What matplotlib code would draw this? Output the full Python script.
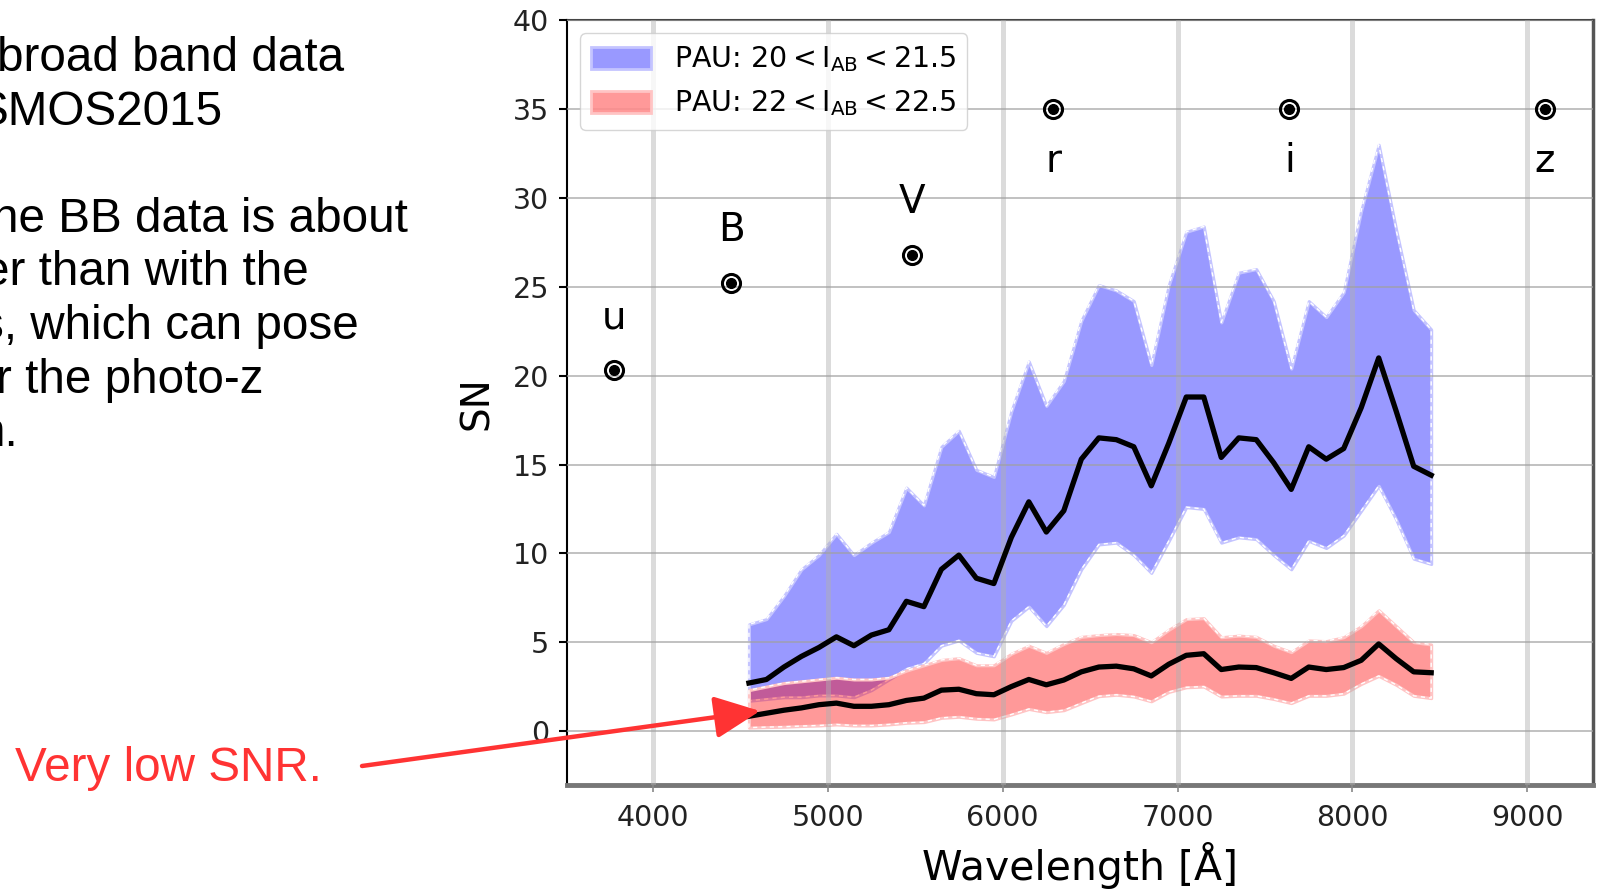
import numpy as np
import matplotlib
matplotlib.use('Agg')
import matplotlib.pyplot as plt
from matplotlib.patches import Patch

plt.rcParams['mathtext.default'] = 'regular'

# PAU narrow band centres [A]
wl = [4550, 4650, 4750, 4850, 4950, 5050, 5150, 5250, 5350, 5450,
      5550, 5650, 5750, 5850, 5950, 6050, 6150, 6250, 6350, 6450,
      6550, 6650, 6750, 6850, 6950, 7050, 7150, 7250, 7350, 7450,
      7550, 7650, 7750, 7850, 7950, 8050, 8150, 8250, 8350, 8450]

# bright sample 20 < I < 21.5
bright_med = [2.7, 2.9, 3.6, 4.2, 4.7, 5.3, 4.8, 5.4, 5.7, 7.3,
              7.0, 9.1, 9.9, 8.6, 8.3, 10.9, 12.9, 11.2, 12.4, 15.3,
              16.5, 16.4, 16.0, 13.8, 16.2, 18.8, 18.8, 15.4, 16.5, 16.4,
              15.1, 13.6, 16.0, 15.3, 15.9, 18.2, 21.0, 18.0, 14.9, 14.4]
bright_hi = [6.0, 6.3, 7.6, 9.1, 9.9, 11.1, 9.9, 10.6, 11.2, 13.7,
             12.7, 16.0, 16.9, 14.7, 14.3, 18.0, 20.8, 18.3, 19.7, 23.1,
             25.1, 24.8, 24.2, 20.6, 25.1, 28.1, 28.4, 23.0, 25.8, 26.0,
             24.2, 20.4, 24.2, 23.3, 24.7, 29.3, 33.0, 28.2, 23.7, 22.6]
bright_lo = [1.7, 1.8, 1.9, 1.9, 2.0, 2.0, 1.9, 2.3, 2.9, 3.5,
             3.8, 4.8, 5.1, 4.4, 4.2, 6.2, 7.0, 5.9, 7.1, 9.1,
             10.5, 10.6, 9.9, 8.9, 10.7, 12.6, 12.5, 10.6, 10.9, 10.8,
             9.9, 9.1, 10.7, 10.3, 11.0, 12.4, 13.8, 11.9, 9.7, 9.4]

# faint sample 22 < I < 22.5
faint_med = [0.83, 1.0, 1.17, 1.3, 1.48, 1.57, 1.39, 1.39, 1.48, 1.72,
             1.85, 2.3, 2.35, 2.1, 2.04, 2.5, 2.9, 2.6, 2.87, 3.33,
             3.6, 3.65, 3.5, 3.1, 3.76, 4.26, 4.35, 3.46, 3.6, 3.57,
             3.28, 2.96, 3.6, 3.46, 3.57, 3.98, 4.9, 4.07, 3.33, 3.28]
faint_hi = [2.3, 2.5, 2.7, 2.8, 2.9, 3.0, 2.9, 2.9, 3.0, 3.4,
            3.7, 4.0, 4.1, 3.7, 3.7, 4.35, 4.8, 4.4, 4.9, 5.3,
            5.4, 5.46, 5.4, 5.0, 5.7, 6.3, 6.35, 5.28, 5.37, 5.3,
            4.8, 4.44, 5.1, 5.06, 5.28, 5.9, 6.8, 5.9, 5.0, 4.87]
faint_lo = [0.19, 0.22, 0.24, 0.28, 0.31, 0.37, 0.31, 0.31, 0.37, 0.46,
            0.5, 0.74, 0.8, 0.69, 0.65, 0.93, 1.24, 1.06, 1.17, 1.57,
            1.96, 2.04, 1.94, 1.67, 2.2, 2.46, 2.5, 1.94, 1.98, 1.98,
            1.8, 1.57, 1.98, 1.98, 2.1, 2.65, 3.1, 2.6, 1.98, 1.85]

# broad bands (COSMOS)
bb_names = ['u', 'B', 'V', 'r', 'i', 'z']
bb_wl = [3780, 4450, 5480, 6290, 7640, 9100]
bb_sn = [20.3, 25.2, 26.8, 35.0, 35.0, 35.0]

labels = [r'PAU: $20 < I_{AB} < 21.5$', r'PAU: $22 < I_{AB} < 22.5$']

slide_lines = ['broad band data', 'SMOS2015', '', 'he BB data is about',
               'er than with the', 's, which can pose', 'r the photo-z', 'n.']
slide_right = [344, 223, 0, 408, 309, 359, 263, 19]

W, H = 1601, 889
fig = plt.figure(figsize=(W / 100, H / 100), dpi=100)
ax = fig.add_axes([567 / W, 1 - 785 / H, (1593 - 567) / W, (785 - 20.4) / H])

blue = (0, 0, 1, 0.4)
red = (1, 0, 0, 0.4)
ax.fill_between(wl, bright_lo, bright_hi, facecolor=blue, edgecolor='#c4c4ff', lw=2.2, zorder=1)
ax.fill_between(wl, bright_lo, bright_hi, facecolor='none', edgecolor='white', lw=1,
                linestyle=(0, (3, 3)), zorder=1.1)
ax.fill_between(wl, faint_lo, faint_hi, facecolor=red, edgecolor='#ffc4c4', lw=2.2, zorder=1.2)
ax.fill_between(wl, faint_lo, faint_hi, facecolor='none', edgecolor='white', lw=1,
                linestyle=(0, (3, 3)), zorder=1.3)

ax.plot(wl, bright_med, color='k', lw=3.8, zorder=3)
ax.plot(wl, faint_med, color='k', lw=3.8, zorder=3)

ax.plot(bb_wl, bb_sn, 'o', mfc='none', mec='k', ms=13, mew=2.2, zorder=4)
ax.plot(bb_wl, bb_sn, 'o', color='k', ms=7, zorder=4)
for name, x, y in zip(bb_names, bb_wl, bb_sn):
    dy = 3.0 if y < 30 else -2.9
    ax.text(x, y + dy, name, fontsize=28, ha='center', va='center')

ax.set_xlim(3510, 9375)
ax.set_ylim(-3.04, 40)
ax.set_xticks([4000, 5000, 6000, 7000, 8000, 9000])
ax.set_yticks(np.arange(0, 41, 5))
ax.set_axisbelow(False)
ax.grid(axis='x', color='#b0b0b0', alpha=0.45, lw=3.6)
ax.grid(axis='y', color='#a0a0a0', alpha=0.65, lw=1.4)

ax.tick_params(axis='y', labelsize=20.5, length=6, width=1.5, color='k', pad=7, labelcolor='#222222')
ax.tick_params(axis='x', labelsize=20.5, length=5, width=1.2, color='#888888', pad=9, labelcolor='#222222')
ax.set_xlabel('Wavelength [Å]', fontsize=29.5, labelpad=7)
ax.set_ylabel('SN', fontsize=28, labelpad=12)

ax.spines['left'].set_color('k')
ax.spines['left'].set_linewidth(1.5)
ax.spines['top'].set_color('#444444')
ax.spines['top'].set_linewidth(1.5)
ax.spines['right'].set_color('#555555')
ax.spines['right'].set_linewidth(2.5)
ax.spines['bottom'].set_color('#777777')
ax.spines['bottom'].set_linewidth(3.5)

handles = [Patch(facecolor=blue, edgecolor='#c4c4ff', lw=2, label=labels[0]),
           Patch(facecolor=red, edgecolor='#ffc4c4', lw=2, label=labels[1])]
ax.legend(handles=handles, loc='upper left', fontsize=20.5, handlelength=2.1,
          handleheight=0.8, framealpha=0.8, edgecolor='#cccccc', borderaxespad=0.45)

# slide text on the left (cut at the page edge)
base = 71
for k, (s, xr) in enumerate(zip(slide_lines, slide_right)):
    if s:
        fig.text(xr / W, 1 - (base + 53.6 * k) / H, s, ha='right', va='baseline',
                 fontsize=34.3, family='Liberation Sans', color='k')

fig.text(15 / W, 1 - 781 / H, 'Very low SNR.', color='#ff3333', fontsize=34.3,
         family='Liberation Sans', va='baseline')
ax.annotate('', xy=(760, H - 711), xycoords='figure pixels',
            xytext=(362, H - 766), textcoords='figure pixels',
            arrowprops=dict(arrowstyle='-|>,head_length=1.4,head_width=0.65',
                            mutation_scale=20, color='#ff3333', lw=3.2,
                            shrinkA=0, shrinkB=0),
            annotation_clip=False, zorder=10)

fig.savefig('out.png', dpi=100)
